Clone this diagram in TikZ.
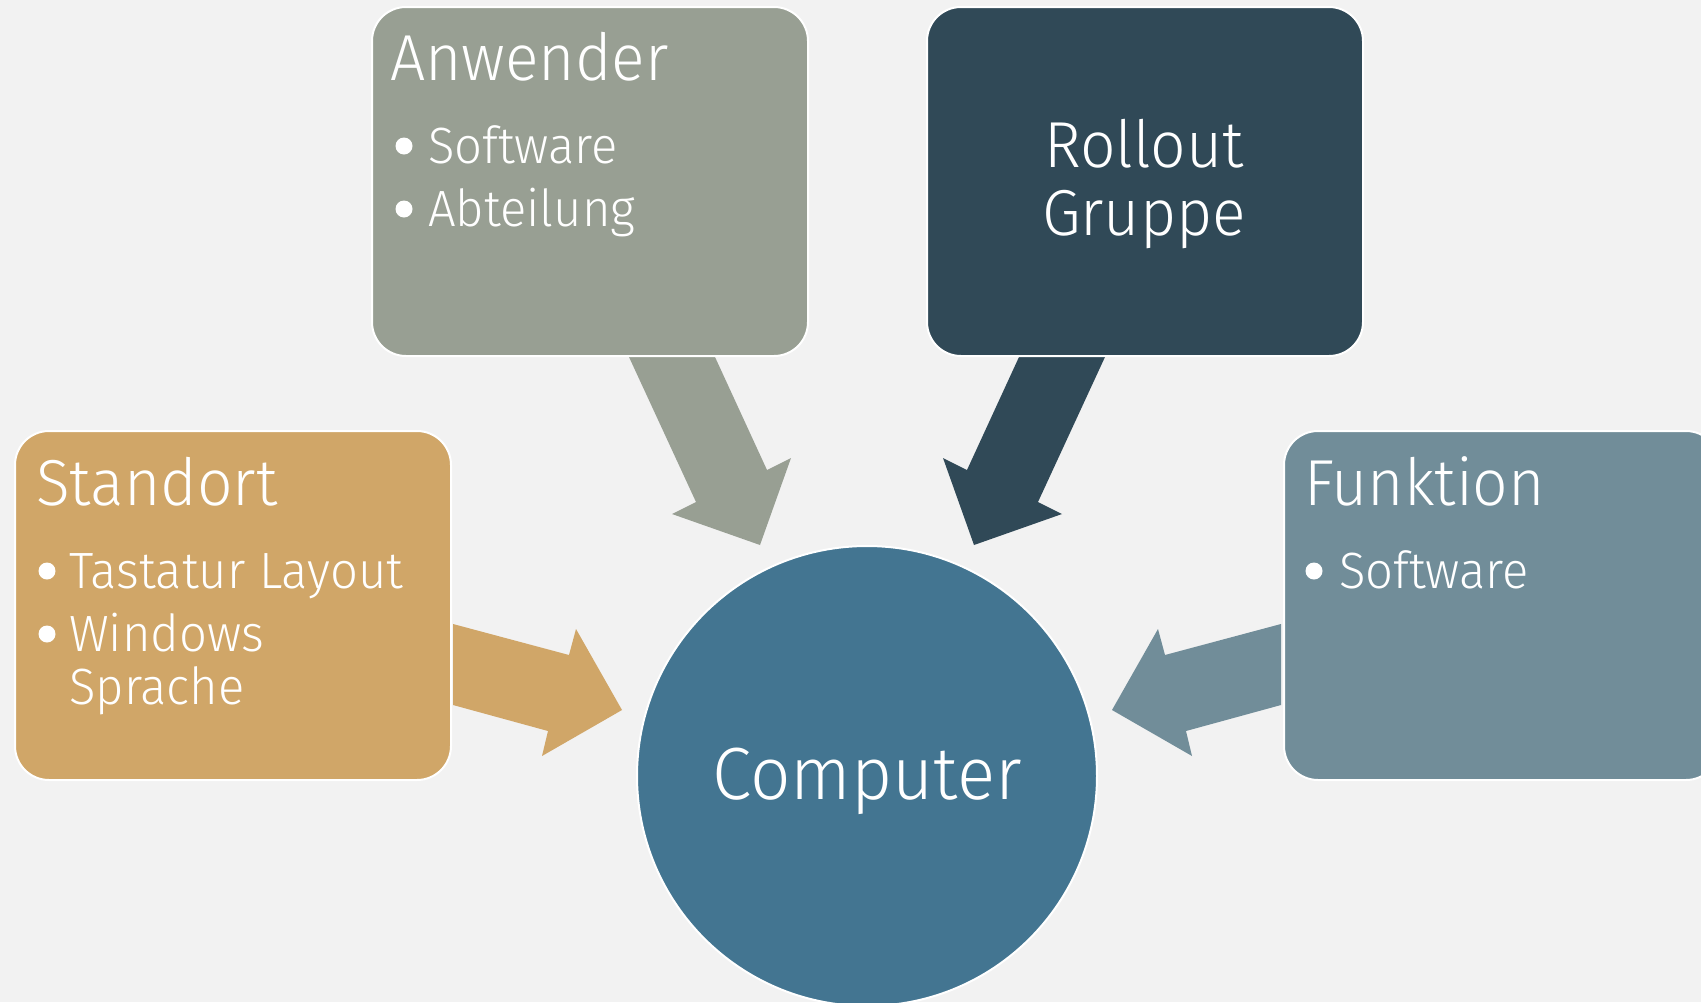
\documentclass[tikz,border=0pt]{standalone}
\usepackage{fontspec}
\setmainfont{Fira Sans}[UprightFont=* Light, FakeStretch=0.96]
\definecolor{bg}{HTML}{F2F2F2}
\definecolor{cAnw}{HTML}{989F93}
\definecolor{cRoll}{HTML}{304957}
\definecolor{cStand}{HTML}{D0A668}
\definecolor{cFunk}{HTML}{718D99}
\definecolor{cComp}{HTML}{437591}
\tikzset{
  box/.style={draw=white, line width=2pt, rounded corners=34pt, anchor=north west,
    minimum width=436pt, minimum height=349pt, inner sep=0pt},
  title/.style={text=white, anchor=base west, inner sep=0pt, font=\fontsize{65}{78}\selectfont},
  item/.style={text=white, anchor=base west, inner sep=0pt, font=\fontsize{51}{60}\selectfont},
  dot/.style={circle, fill=white, minimum size=17pt, inner sep=0pt}
}
\begin{document}
\begin{tikzpicture}[x=1pt,y=-1pt]
\useasboundingbox (0,0) rectangle (1701,1002);
\fill[bg] (0,0) rectangle (1701,1002);

% block arrows
\fill[cAnw] (629,357) -- (715,357) -- (767,470) -- (791,458) -- (760,545) -- (672,514) -- (696,502) -- cycle;
\fill[cRoll] (1105,357) -- (1019,357) -- (967,470) -- (943,458) -- (974,545) -- (1062,514) -- (1038,502) -- cycle;
\fill[cStand] (453,624) -- (569,655) -- (576,629) -- (622,710) -- (542,756) -- (548,731) -- (453,705) -- cycle;
\fill[cFunk] (1281,624) -- (1165,655) -- (1158,629) -- (1112,710) -- (1192,756) -- (1186,731) -- (1281,705) -- cycle;

% boxes
\node[box, fill=cAnw] (anw) at (371,6) {};
\node[box, fill=cRoll] (roll) at (926,6) {};
\node[box, fill=cStand] (stand) at (14,430) {};
\node[box, fill=cFunk] (funk) at (1283,430) {};

% computer
\node[circle, draw=white, line width=2pt, fill=cComp, minimum size=460pt, inner sep=0pt] (comp) at (867,776) {};
\node[text=white, anchor=base, inner sep=0pt, font=\fontsize{74}{88}\selectfont] (comptxt) at (867,799) {Computer};

% Anwender
\node[title] (anwT) at (390,80) {Anwender};
\node[dot] (anwD1) at (404,146) {};
\node[item] (anwI1) at (428,163) {Software};
\node[dot] (anwD2) at (404,209) {};
\node[item] (anwI2) at (428,226) {Abteilung};

% Rollout
\node[text=white, anchor=base, inner sep=0pt, font=\fontsize{65}{78}\selectfont] (rollT1) at (1144,167) {Rollout};
\node[text=white, anchor=base, inner sep=0pt, font=\fontsize{65}{78}\selectfont] (rollT2) at (1144,235) {Gruppe};

% Standort
\node[title] (standT) at (36,505) {Standort};
\node[dot] (standD1) at (47,571) {};
\node[item] (standI1) at (69,588) {Tastatur Layout};
\node[dot] (standD2) at (47,634) {};
\node[item] (standI2) at (69,651) {Windows};
\node[item] (standI3) at (69,704) {Sprache};

% Funktion
\node[title] (funkT) at (1304,505) {Funktion};
\node[dot] (funkD1) at (1314,571) {};
\node[item] (funkI1) at (1339,588) {Software};
\end{tikzpicture}
\end{document}
